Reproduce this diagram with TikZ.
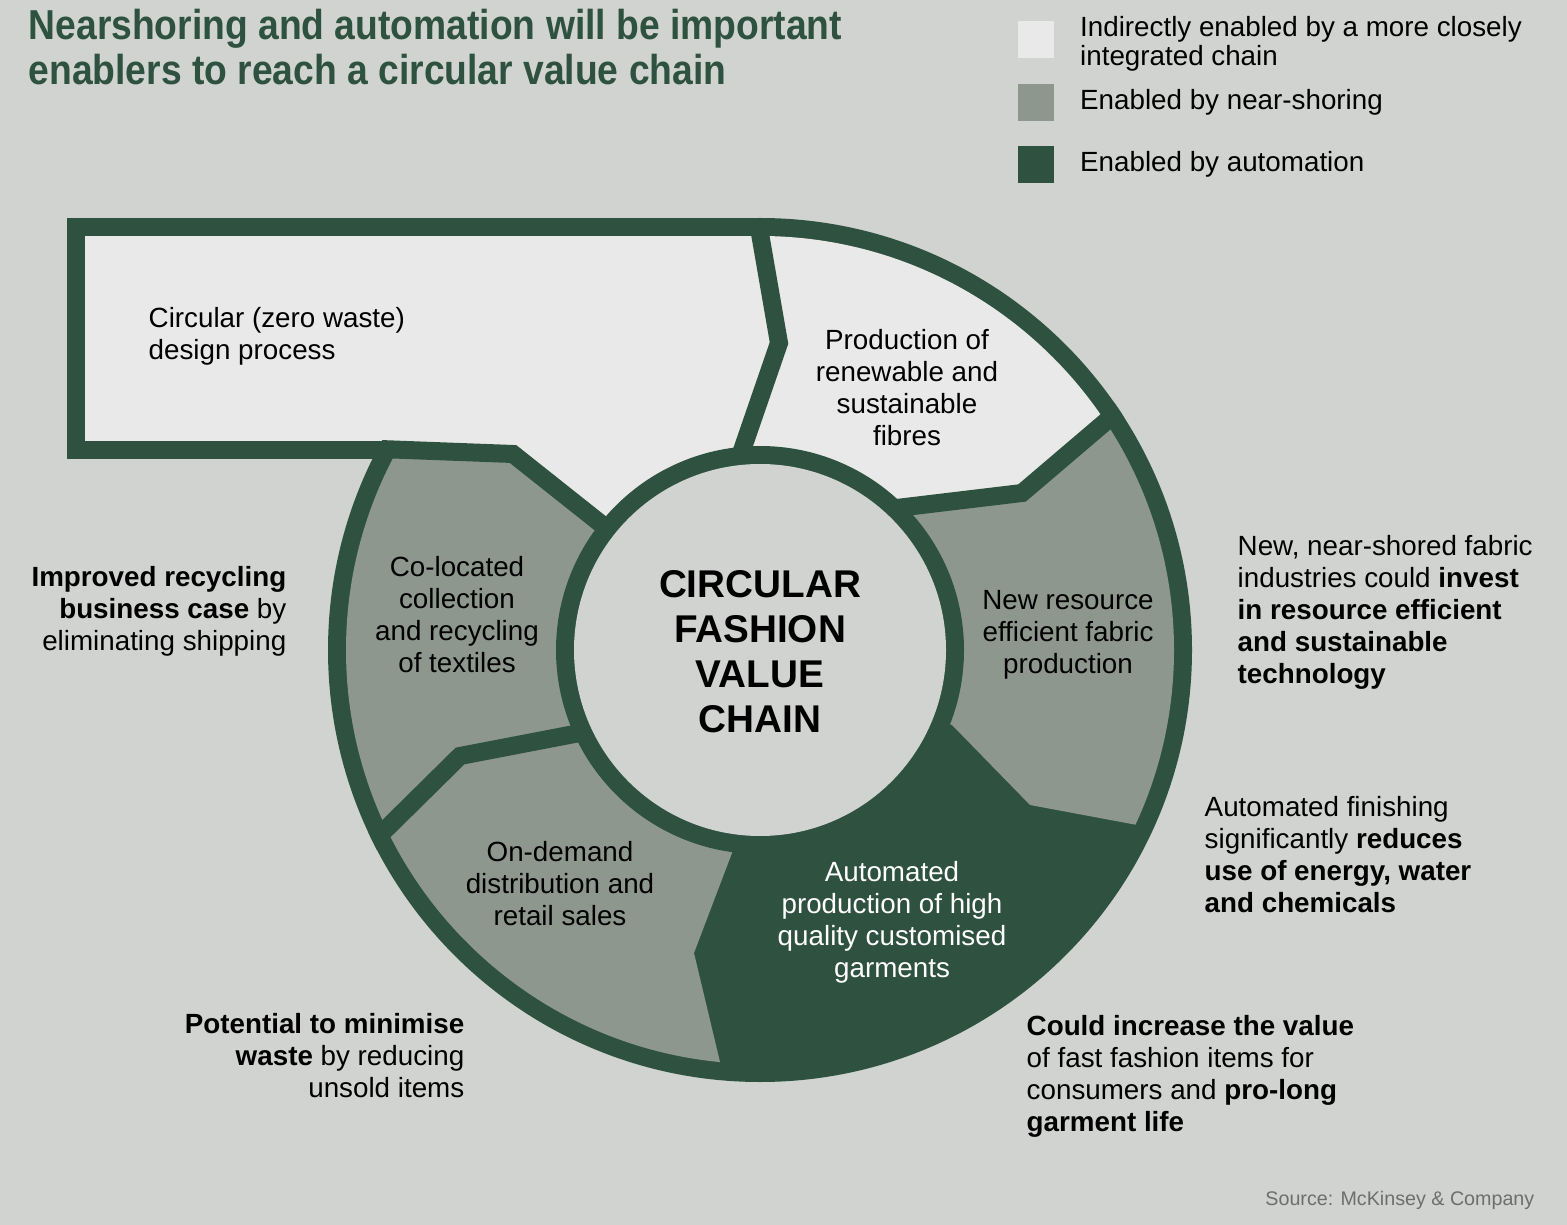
\documentclass[tikz,border=0pt]{standalone}
\usepackage{fontspec}
\setmainfont{Liberation Sans}
\newfontfamily\titlefont[FakeStretch=0.89]{Liberation Sans}
\usepackage{xcolor}
\usepackage{tikz}
\usetikzlibrary{positioning}
\definecolor{ringgreen}{HTML}{2E5140}
\definecolor{midgray}{HTML}{8D978D}
\definecolor{paleseg}{HTML}{E9E9E9}
\definecolor{bggray}{HTML}{D0D3CF}
\definecolor{srcgray}{HTML}{6E6E6E}
\tikzset{
    divider/.style={
        draw=ringgreen,
        line width=0.18cm,
        line join=miter
    },
    seglabel/.style={
        font=\fontsize{7.9}{9.1}\selectfont,
        align=center,
        inner sep=0pt
    },
    note/.style={
        font=\fontsize{7.9}{9.1}\selectfont,
        inner sep=0pt
    },
    keybox/.style={
        minimum width=0.36cm,
        minimum height=0.37cm,
        inner sep=0pt,
        anchor=north west
    },
    keytext/.style={
        font=\fontsize{7.9}{7.1}\selectfont,
        align=left,
        inner sep=0pt
    }
}

\begin{document}
\begin{tikzpicture}[x=0.01cm, y=-0.01cm]

\fill[bggray] (0,0) rectangle (1567,1225);
\useasboundingbox (0,0) rectangle (1567,1225);

% Title
\node[anchor=west, inner sep=0pt, align=left, text=ringgreen,
      font=\fontsize{11.9}{12.8}\selectfont\titlefont\bfseries] (title) at (28,47)
      {Nearshoring and automation will be important\\enablers to reach a circular value chain};

% Legend
\node[keybox, fill=paleseg] (key1) at (1017,20) {};
\node[keybox, fill=midgray] (key2) at (1017,83) {};
\node[keybox, fill=ringgreen] (key3) at (1017,145) {};
\node[keytext, right=0.25cm of key1, yshift=-0.045cm] (key1txt) {Indirectly enabled by a more closely\\integrated chain};
\node[keytext, right=0.25cm of key2] (key2txt) {Enabled by near-shoring};
\node[keytext, right=0.25cm of key3] (key3txt) {Enabled by automation};

% Ring and design box
\coordinate (c) at (760,650);
\fill[ringgreen] (67,218) rectangle (760,459);
\fill[ringgreen] (c) circle[radius=432];
\fill[paleseg] (85,236) rectangle (762,441);

\begin{scope}
    \clip (c) circle[radius=414];
    % pale: design + fibres
    \fill[paleseg] (c) -- (596,520) -- (513,454) -- (300,446) -- (300,100) -- (1300,100)
        -- (1135,396) -- (1110,418) -- (1022,493) -- (905,507) -- cycle;
    % fabric production
    \fill[midgray] (c) -- (905,507) -- (1022,493) -- (1110,418) -- (1135,396) -- (1300,396)
        -- (1300,850) -- (1200,837) -- (1137,825) -- (1030,805) -- (952,725) -- cycle;
    % retail + recycling
    \fill[midgray] (c) -- (732,853) -- (694,953) -- (720,1062) -- (725,1120) -- (250,1120)
        -- (250,446) -- (513,454) -- (596,520) -- cycle;
\end{scope}

\begin{scope}
    \clip (c) circle[radius=432];
    \draw[divider] (758,222) -- (779,343) -- (738,462);
    \draw[divider] (880,510) -- (1022,493) -- (1110,418) -- (1135,396);
    \draw[divider] (590,731) -- (460,756) -- (387,828) -- (350,862);
    \draw[divider] (300,446) -- (513,454) -- (610,531);
\end{scope}

% Hub
\fill[ringgreen] (c) circle[radius=204];
\fill[bggray] (c) circle[radius=186];
\node[align=center, inner sep=0pt, font=\fontsize{11}{12.8}\selectfont\bfseries] (hub) at (760,652)
    {CIRCULAR\\FASHION\\VALUE\\CHAIN};

% Segment labels
\node[seglabel, anchor=west, align=left] (design) at (148,336) {Circular (zero waste)\\design process};
\node[seglabel] (fibres) at (907,388) {Production of\\renewable and\\sustainable\\fibres};
\node[seglabel] (fabric) at (1068,635) {New resource\\efficient fabric\\production};
\node[seglabel, text=white] (garments) at (892,922) {Automated\\production of high\\quality customised\\garments};
\node[seglabel] (retail) at (560,884) {On-demand\\distribution and\\retail sales};
\node[seglabel] (recycle) at (457,615) {Co-located\\collection\\and recycling\\of textiles};

% Side notes
\node[note, anchor=east, align=right] (noterecycle) at (287,611)
    {\textbf{Improved recycling}\\\textbf{business case} by\\eliminating shipping};
\node[note, anchor=west, align=left] (notefabric) at (1237,612)
    {New, near-shored fabric\\industries could \textbf{invest}\\\textbf{in resource efficient}\\\textbf{and sustainable}\\\textbf{technology}};
\node[note, anchor=west, align=left] (notefinish) at (1204,855)
    {Automated finishing\\significantly \textbf{reduces}\\\textbf{use of energy, water}\\\textbf{and chemicals}};
\node[note, anchor=east, align=right] (notewaste) at (465,1056)
    {\textbf{Potential to minimise}\\\textbf{waste} by reducing\\unsold items};
\node[note, anchor=west, align=left] (notevalue) at (1026,1076)
    {\textbf{Could increase the value}\\of fast fashion items for\\consumers and \textbf{pro-long}\\\textbf{garment life}};

% Source
\node[anchor=east, inner sep=0pt, text=srcgray, font=\fontsize{5.6}{6.5}\selectfont] (source) at (1535,1200)
    {Source: McKinsey \& Company};

\end{tikzpicture}
\end{document}
